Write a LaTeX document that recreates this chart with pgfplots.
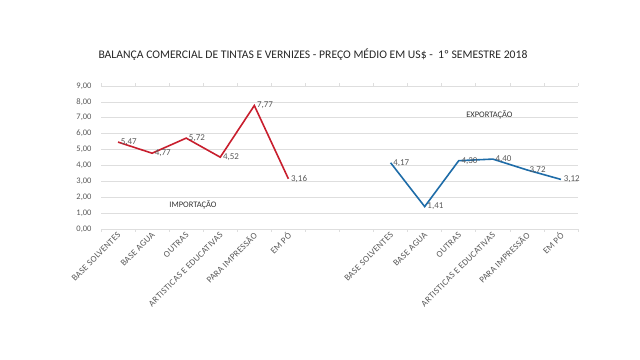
\documentclass[border=0pt]{standalone}
\usepackage{pgfplots}
\pgfplotsset{compat=1.18}
\usepackage{fontspec}
\setmainfont{Carlito}
\newfontfamily\spaced[LetterSpace=3]{Carlito}
\definecolor{impred}{RGB}{200,30,45}
\definecolor{expblue}{RGB}{30,108,168}
\definecolor{txtgray}{RGB}{89,89,89}
\definecolor{gridgray}{RGB}{222,222,222}
\begin{document}
\begin{tikzpicture}
\useasboundingbox (0,0) rectangle (640bp,360bp);
\node[font=\fontsize{11.7}{14}\selectfont, text=black!85] at (313bp,305bp) {BALANÇA COMERCIAL DE TINTAS E VERNIZES - PREÇO MÉDIO EM US\$ -\ \ 1º SEMESTRE 2018};
\begin{axis}[
  at={(101bp,131bp)}, anchor=south west,
  scale only axis, width=477bp, height=143bp,
  xmin=-0.5, xmax=13.5, ymin=0, ymax=9,
  ytick={0,1,...,9},
  /pgf/number format/assume math mode=true,
  yticklabel={\pgfmathprintnumber[fixed,zerofill,precision=2,use comma]{\tick}},
  yticklabel style={font=\fontsize{8.5}{10}\selectfont, text=txtgray, xshift=-3bp},
  xtick={0,1,2,3,4,5,8,9,10,11,12,13},
  xticklabels={BASE SOLVENTES,BASE AGUA,OUTRAS,ARTISTICAS E EDUCATIVAS,PARA IMPRESSÃO,EM PÓ,BASE SOLVENTES,BASE AGUA,OUTRAS,ARTISTICAS E EDUCATIVAS,PARA IMPRESSÃO,EM PÓ},
  xticklabel style={font=\spaced\fontsize{9}{10}\selectfont, text=txtgray, rotate=45, anchor=east, xshift=3bp, yshift=-2bp},
  tick style={draw=none},
  major tick length=3bp, tick align=outside,
  extra x ticks={-0.5,0.5,...,13.5},
  extra x tick labels={},
  extra x tick style={tick style={draw=gridgray, line width=0.6bp}, grid=none},
  axis line style={draw=none},
  ymajorgrids, major grid style={draw=gridgray, line width=0.6bp},
  clip=false,
  nodes near coords={\pgfmathprintnumber[fixed,zerofill,precision=2,use comma]{\pgfplotspointmeta}},
  nodes near coords style={anchor=west, font=\fontsize{9}{10}\selectfont, text=txtgray, inner sep=2bp},
]
\addplot[impred, line width=1.6bp] coordinates {(0,5.47) (1,4.77) (2,5.72) (3,4.52) (4,7.77) (5,3.16)};
\addplot[expblue, line width=1.6bp] coordinates {(8,4.17) (9,1.41) (10,4.30) (11,4.40) (12,3.72) (13,3.12)};
\node[font=\fontsize{8.5}{10}\selectfont, text=black!80] at (axis cs:2.2,1.5) {IMPORTAÇÃO};
\node[font=\fontsize{8.5}{10}\selectfont, text=black!80] at (axis cs:10.9,7.2) {EXPORTAÇÃO};
\end{axis}
\end{tikzpicture}
\end{document}
